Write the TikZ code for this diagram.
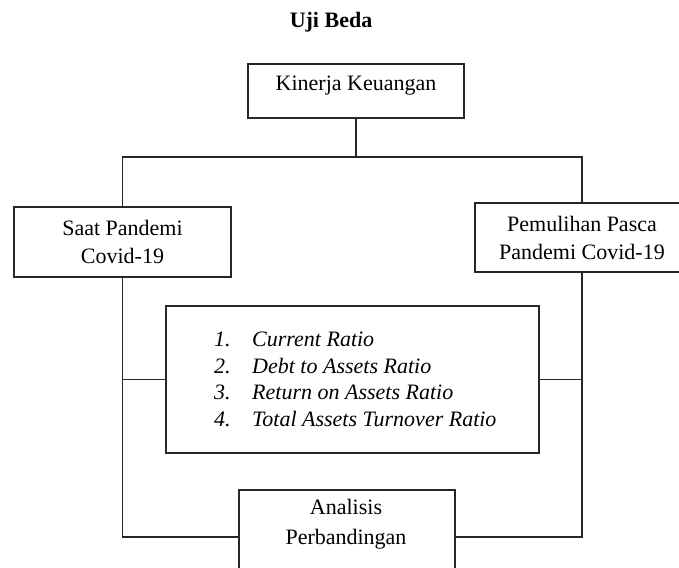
\documentclass[tikz,border=0pt]{standalone}
\usepackage{fontspec}
\setmainfont{Liberation Serif}
\begin{document}
\begin{tikzpicture}[x=1pt,y=-1pt,
  boxnode/.style={draw=black!85, line width=1.1pt, rectangle, inner sep=0pt, align=center, font=\fontsize{22}{28}\selectfont},
  wire/.style={draw=black!85, line width=1.1pt}]
\useasboundingbox (0,0) rectangle (679,567);
\node[font=\fontsize{22}{26}\selectfont\bfseries] (title) at (331,22) {Uji Beda};
\node[boxnode, minimum width=216pt, minimum height=54pt, text height=27pt-12pt, text depth=27pt] (kin) at (356,91) {};
\node[font=\fontsize{22}{28}\selectfont, anchor=base] (kint) at (356,91) {Kinerja Keuangan};
\node[boxnode, minimum width=217pt, minimum height=70pt] (saat) at (122.5,242) {Saat Pandemi\\Covid-19};
\node[boxnode, minimum width=214pt, minimum height=69pt] (pem) at (582,237.5) {Pemulihan Pasca\\Pandemi Covid-19};
\node[boxnode, minimum width=373pt, minimum height=147pt] (ratio) at (352.5,379.5) {};
\node[anchor=west, inner sep=0pt, align=left, font=\fontsize{22}{26.5}\selectfont\itshape] (list) at (214,379.5)
 {\makebox[38pt][l]{1.}Current Ratio\\
  \makebox[38pt][l]{2.}Debt to Assets Ratio\\
  \makebox[38pt][l]{3.}Return on Assets Ratio\\
  \makebox[38pt][l]{4.}Total Assets Turnover Ratio};
\node[boxnode, minimum width=216pt, minimum height=94pt, text height=15pt, text depth=52pt] (ana) at (347,537) {};
\node[font=\fontsize{22}{30}\selectfont, align=center, anchor=north, inner sep=0pt] (anat) at (346,499) {Analisis\\Perbandingan};
\coordinate (top) at (356,157);
\draw[wire] (kin.south) -- (top);
\draw[wire] (saat.north) |- (top) -| (pem.north);
\draw[wire] (saat.south) |- (ana.west);
\draw[wire] (pem.south) |- (ana.east);
\draw[wire] (ratio.west) -- (ratio.west -| saat.south);
\draw[wire] (ratio.east) -- (ratio.east -| pem.south);
\end{tikzpicture}
\end{document}
